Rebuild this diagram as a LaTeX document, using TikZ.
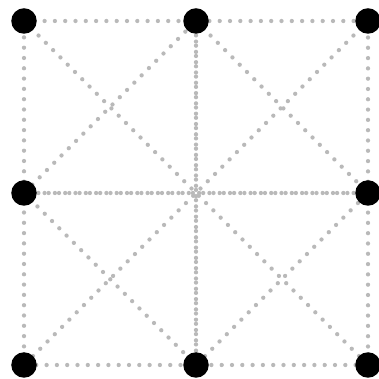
\documentclass[tikz,border=0pt]{standalone}
\definecolor{dotgray}{RGB}{185,185,185}
\begin{document}
\begin{tikzpicture}[x=172pt,y=172pt,
    grid line/.style={dotgray, line width=4.3pt, line cap=round,
        dash pattern=on 0pt off 10.3pt},
    vertex/.style={circle, fill=black, inner sep=0pt, minimum size=25.5pt}]

    \useasboundingbox (-24pt,-14pt) rectangle (354pt,365pt);

    \coordinate (tl) at (0,2);
    \coordinate (tm) at (1,2);
    \coordinate (tr) at (2,2);
    \coordinate (ml) at (0,1);
    \coordinate (c)  at (1,1);
    \coordinate (mr) at (2,1);
    \coordinate (bl) at (0,0);
    \coordinate (bm) at (1,0);
    \coordinate (br) at (2,0);

    % outer square
    \draw [grid line]
        (tl) -- (tm) -- (tr) -- (mr) -- (br) -- (bm) -- (bl) -- (ml) -- (tl)
        ;

    % middle lines (drawn both ways)
    \draw [grid line] (tm) -- (bm);
    \draw [grid line] (bm) -- (tm);
    \draw [grid line] (ml) -- (mr);
    \draw [grid line] (mr) -- (ml);

    % diagonals
    \draw [grid line] (tl) -- (c) -- (br);
    \draw [grid line] (tr) -- (c) -- (bl);

    % diamond
    \draw [grid line]
        (tm) -- (mr) -- (bm) -- (ml) -- (tm)
        ;

    \foreach \p in {tl,tm,tr,ml,mr,bl,bm,br}
        \node [vertex] (v-\p) at (\p) {};
\end{tikzpicture}
\end{document}
